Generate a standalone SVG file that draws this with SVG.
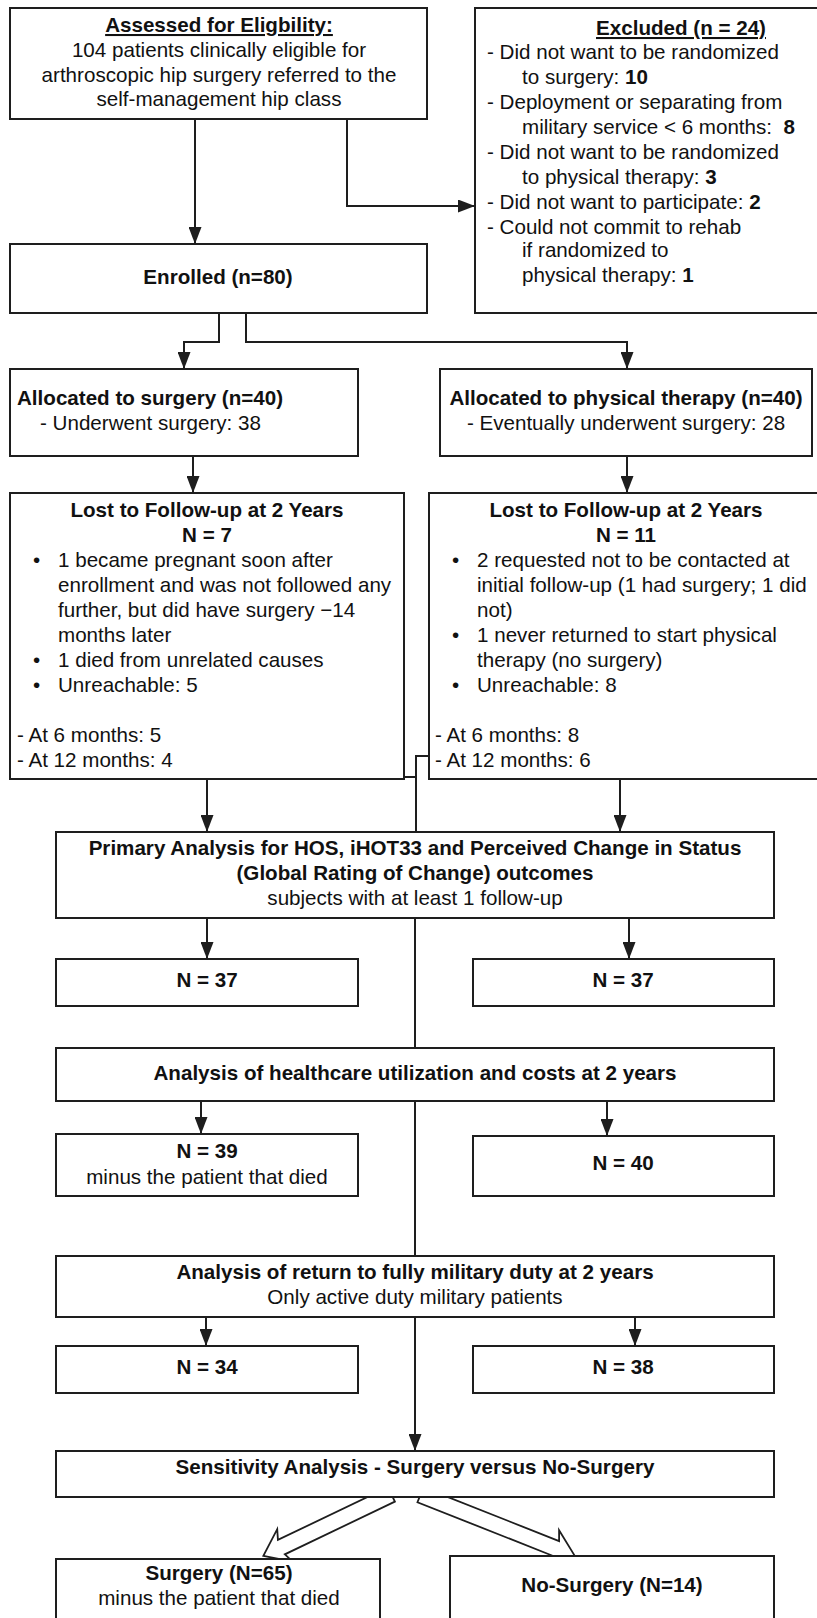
<svg xmlns="http://www.w3.org/2000/svg" width="817" height="1618" viewBox="0 0 817 1618">
<style>
.box{fill:#fff;stroke:#1e1e1e;stroke-width:2}
.ln{fill:none;stroke:#1e1e1e;stroke-width:2}
.ha{fill:#fff;stroke:#1e1e1e;stroke-width:1.8;stroke-linejoin:miter}
text{font-family:"Liberation Sans",Arial,sans-serif;font-size:20.6px;fill:#111}
.b{font-weight:bold}
.c{text-anchor:middle}
.u{text-decoration:underline}
</style>
<defs>
<marker id="ar" markerUnits="userSpaceOnUse" markerWidth="17" markerHeight="13" viewBox="0 0 17 13" refX="17" refY="6.5" orient="auto">
<path d="M0,0 L17,6.5 L0,13 z" fill="#1e1e1e"/>
</marker>
</defs>
<rect width="817" height="1618" fill="#fff"/>
<g id="connectors">
<path class="ln" d="M195,119 V244" marker-end="url(#ar)"/>
<path class="ln" d="M347,119 V206 H475" marker-end="url(#ar)"/>
<path class="ln" d="M219,313 V342 H184 V369" marker-end="url(#ar)"/>
<path class="ln" d="M246,313 V342 H627 V369" marker-end="url(#ar)"/>
<path class="ln" d="M193,456 V493" marker-end="url(#ar)"/>
<path class="ln" d="M627,456 V493" marker-end="url(#ar)"/>
<path class="ln" d="M207,779 V832" marker-end="url(#ar)"/>
<path class="ln" d="M620,779 V832" marker-end="url(#ar)"/>
<path class="ln" d="M404,777 H416"/>
<path class="ln" d="M429,756 H416 V832"/>
<path class="ln" d="M415,918 V1048"/>
<path class="ln" d="M415,1101 V1256"/>
<path class="ln" d="M415,1317 V1451" marker-end="url(#ar)"/>
<path class="ln" d="M207,918 V959" marker-end="url(#ar)"/>
<path class="ln" d="M629,918 V959" marker-end="url(#ar)"/>
<path class="ln" d="M201,1101 V1134" marker-end="url(#ar)"/>
<path class="ln" d="M607,1101 V1136" marker-end="url(#ar)"/>
<path class="ln" d="M206,1317 V1346" marker-end="url(#ar)"/>
<path class="ln" d="M635,1317 V1346" marker-end="url(#ar)"/>
<polygon class="ha" transform="translate(386,1497) rotate(154.4)" points="-6,-8 116,-8 112,-18 136,0 112,18 116,8 -6,8"/>
<polygon class="ha" transform="translate(426,1497) rotate(21.6)" points="-6,-8 140,-8 136,-18 160,0 136,18 140,8 -6,8"/>
</g>
<g id="assessed">
<rect class="box" x="10" y="8" width="417" height="111"/>
<text class="b c u" x="219" y="32">Assessed for Eligbility:</text>
<text class="c" x="219" y="57">104 patients clinically eligible for</text>
<text class="c" x="219" y="82">arthroscopic hip surgery referred to the</text>
<text class="c" x="219" y="106">self-management hip class</text>
</g>
<g id="excluded">
<rect class="box" x="475" y="8" width="345" height="305"/>
<text class="b c u" x="681" y="35">Excluded (n = 24)</text>
<text x="487" y="59">- Did not want to be randomized</text>
<text x="522" y="84">to surgery: <tspan class="b">10</tspan></text>
<text x="487" y="109">- Deployment or separating from</text>
<text x="522" y="134" xml:space="preserve">military service &lt; 6 months:  <tspan class="b">8</tspan></text>
<text x="487" y="159">- Did not want to be randomized</text>
<text x="522" y="184">to physical therapy: <tspan class="b">3</tspan></text>
<text x="487" y="209">- Did not want to participate: <tspan class="b">2</tspan></text>
<text x="487" y="234">- Could not commit to rehab</text>
<text x="522" y="257">if randomized to</text>
<text x="522" y="282">physical therapy: <tspan class="b">1</tspan></text>
</g>
<g id="enrolled">
<rect class="box" x="10" y="244" width="417" height="69"/>
<text class="b c" x="218" y="284">Enrolled (n=80)</text>
</g>
<g id="alloc-surgery">
<rect class="box" x="10" y="369" width="348" height="87"/>
<text class="b" x="17" y="405">Allocated to surgery (n=40)</text>
<text x="40" y="430">- Underwent surgery: 38</text>
</g>
<g id="alloc-pt">
<rect class="box" x="440" y="369" width="372" height="87"/>
<text class="b c" x="626" y="405">Allocated to physical therapy (n=40)</text>
<text class="c" x="626" y="430">- Eventually underwent surgery: 28</text>
</g>
<g id="lost-surgery">
<rect class="box" x="10" y="493" width="394" height="286"/>
<text class="b c" x="207" y="517">Lost to Follow-up at 2 Years</text>
<text class="b c" x="207" y="542">N = 7</text>
<text x="33" y="567">•</text><text x="58" y="567">1 became pregnant soon after</text>
<text x="58" y="592">enrollment and was not followed any</text>
<text x="58" y="617">further, but did have surgery −14</text>
<text x="58" y="642">months later</text>
<text x="33" y="667">•</text><text x="58" y="667">1 died from unrelated causes</text>
<text x="33" y="692">•</text><text x="58" y="692">Unreachable: 5</text>
<text x="17" y="742">- At 6 months: 5</text>
<text x="17" y="767">- At 12 months: 4</text>
</g>
<g id="lost-pt">
<rect class="box" x="429" y="493" width="390" height="286"/>
<text class="b c" x="626" y="517">Lost to Follow-up at 2 Years</text>
<text class="b c" x="626" y="542">N = 11</text>
<text x="452" y="567">•</text><text x="477" y="567">2 requested not to be contacted at</text>
<text x="477" y="592">initial follow-up (1 had surgery; 1 did</text>
<text x="477" y="617">not)</text>
<text x="452" y="642">•</text><text x="477" y="642">1 never returned to start physical</text>
<text x="477" y="667">therapy (no surgery)</text>
<text x="452" y="692">•</text><text x="477" y="692">Unreachable: 8</text>
<text x="435" y="742">- At 6 months: 8</text>
<text x="435" y="767">- At 12 months: 6</text>
</g>
<g id="primary">
<rect class="box" x="56" y="832" width="718" height="86"/>
<text class="b c" x="415" y="855">Primary Analysis for HOS, iHOT33 and Perceived Change in Status</text>
<text class="b c" x="415" y="880">(Global Rating of Change) outcomes</text>
<text class="c" x="415" y="905">subjects with at least 1 follow-up</text>
</g>
<g id="n37-surgery">
<rect class="box" x="56" y="959" width="302" height="47"/>
<text class="b c" x="207" y="987">N = 37</text>
</g>
<g id="n37-pt">
<rect class="box" x="473" y="959" width="301" height="47"/>
<text class="b c" x="623" y="987">N = 37</text>
</g>
<g id="healthcare">
<rect class="box" x="56" y="1048" width="718" height="53"/>
<text class="b c" x="415" y="1080">Analysis of healthcare utilization and costs at 2 years</text>
</g>
<g id="n39">
<rect class="box" x="56" y="1134" width="302" height="62"/>
<text class="b c" x="207" y="1158">N = 39</text>
<text class="c" x="207" y="1184">minus the patient that died</text>
</g>
<g id="n40">
<rect class="box" x="473" y="1136" width="301" height="60"/>
<text class="b c" x="623" y="1170">N = 40</text>
</g>
<g id="military">
<rect class="box" x="56" y="1256" width="718" height="61"/>
<text class="b c" x="415" y="1279">Analysis of return to fully military duty at 2 years</text>
<text class="c" x="415" y="1304">Only active duty military patients</text>
</g>
<g id="n34">
<rect class="box" x="56" y="1346" width="302" height="47"/>
<text class="b c" x="207" y="1374">N = 34</text>
</g>
<g id="n38">
<rect class="box" x="473" y="1346" width="301" height="47"/>
<text class="b c" x="623" y="1374">N = 38</text>
</g>
<g id="sensitivity">
<rect class="box" x="56" y="1451" width="718" height="46"/>
<text class="b c" x="415" y="1474">Sensitivity Analysis - Surgery versus No-Surgery</text>
</g>
<g id="surgery">
<rect class="box" x="56" y="1559" width="324" height="80"/>
<text class="b c" x="219" y="1580">Surgery (N=65)</text>
<text class="c" x="219" y="1605">minus the patient that died</text>
</g>
<g id="no-surgery">
<rect class="box" x="450" y="1556" width="324" height="80"/>
<text class="b c" x="612" y="1592">No-Surgery (N=14)</text>
</g>
</svg>
